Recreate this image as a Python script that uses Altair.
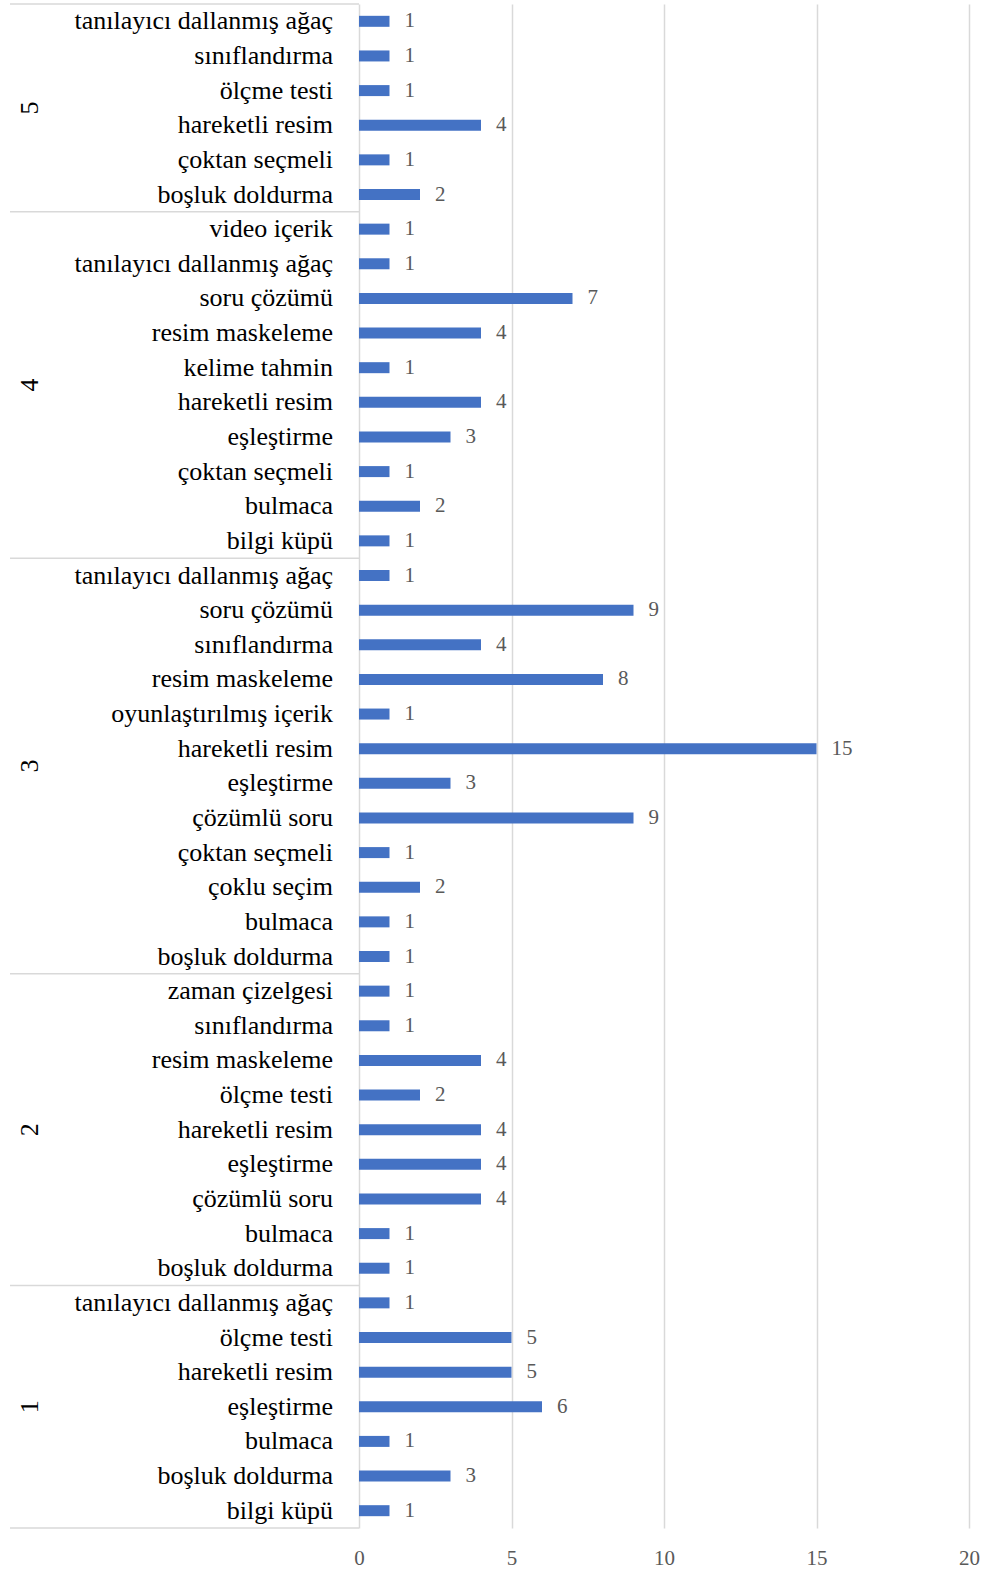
import altair as alt
import pandas as pd

group_names = ["5", "4", "3", "2", "1"]

g5_cats = ["tanılayıcı dallanmış ağaç", "sınıflandırma", "ölçme testi", "hareketli resim",
           "çoktan seçmeli", "boşluk doldurma"]
g5_vals = [1, 1, 1, 4, 1, 2]

g4_cats = ["video içerik", "tanılayıcı dallanmış ağaç", "soru çözümü", "resim maskeleme",
           "kelime tahmin", "hareketli resim", "eşleştirme", "çoktan seçmeli", "bulmaca", "bilgi küpü"]
g4_vals = [1, 1, 7, 4, 1, 4, 3, 1, 2, 1]

g3_cats = ["tanılayıcı dallanmış ağaç", "soru çözümü", "sınıflandırma", "resim maskeleme",
           "oyunlaştırılmış içerik", "hareketli resim", "eşleştirme", "çözümlü soru",
           "çoktan seçmeli", "çoklu seçim", "bulmaca", "boşluk doldurma"]
g3_vals = [1, 9, 4, 8, 1, 15, 3, 9, 1, 2, 1, 1]

g2_cats = ["zaman çizelgesi", "sınıflandırma", "resim maskeleme", "ölçme testi", "hareketli resim",
           "eşleştirme", "çözümlü soru", "bulmaca", "boşluk doldurma"]
g2_vals = [1, 1, 4, 2, 4, 4, 4, 1, 1]

g1_cats = ["tanılayıcı dallanmış ağaç", "ölçme testi", "hareketli resim", "eşleştirme",
           "bulmaca", "boşluk doldurma", "bilgi küpü"]
g1_vals = [1, 5, 5, 6, 1, 3, 1]

x_ticks = [0, 5, 10, 15, 20]

groups = [(group_names[0], g5_cats, g5_vals), (group_names[1], g4_cats, g4_vals),
          (group_names[2], g3_cats, g3_vals), (group_names[3], g2_cats, g2_vals),
          (group_names[4], g1_cats, g1_vals)]

rows = []
grows = []
bounds = [-0.5]
r = 0
for g, cats, vals in groups:
    start = r
    for c, v in zip(cats, vals):
        rows.append({"group": g, "cat": c, "value": v, "row": r})
        r += 1
    grows.append({"group": g, "row": (start + r - 1) / 2})
    bounds.append(r - 0.5)

df = pd.DataFrame(rows)
gdf = pd.DataFrame(grows)
bdf = pd.DataFrame({"b": bounds})

FONT = "Liberation Serif"
yscale = alt.Scale(domain=[-0.5, r - 0.5], reverse=True, nice=False, zero=False, padding=0)
xscale = alt.Scale(domain=[0, 20], nice=False, padding=0)
xaxis = alt.Axis(values=x_ticks, grid=True, gridColor="#d9d9d9", gridWidth=1.5,
                 domain=False, ticks=False, title=None, labelFont=FONT, labelFlush=False,
                 labelFontSize=21, labelColor="#595959", labelPadding=19)

base = alt.Chart(df)

bars = base.mark_bar(orient="horizontal", height=11, color="#4472C4").encode(
    x=alt.X("value:Q", scale=xscale, axis=xaxis),
    y=alt.Y("row:Q", scale=yscale, axis=None),
)

vals = base.mark_text(align="left", baseline="middle", dx=15, font=FONT, fontSize=21,
                      color="#595959").encode(
    x=alt.X("value:Q", scale=xscale, axis=xaxis),
    y=alt.Y("row:Q", scale=yscale, axis=None), text="value:Q")

cats = base.mark_text(align="right", baseline="middle", font=FONT, fontSize=26,
                      color="#000000").encode(
    x=alt.value(-26), y=alt.Y("row:Q", scale=yscale, axis=None), text="cat:N")

glabels = alt.Chart(gdf).mark_text(align="center", baseline="middle", angle=270, font=FONT,
                                   fontSize=26, color="#000000").encode(
    x=alt.value(-329), y=alt.Y("row:Q", scale=yscale, axis=None), text="group:N")

seps = alt.Chart(bdf).mark_rule(color="#d9d9d9", strokeWidth=1.5).encode(
    x=alt.value(-349), x2=alt.value(0), y=alt.Y("b:Q", scale=yscale, axis=None))

chart = alt.layer(bars, seps, vals, cats, glabels).properties(
    width=610, height=1524,
    autosize=alt.AutoSizeParams(type="none"),
    padding={"left": 359, "top": 4, "right": 15, "bottom": 45},
).configure_view(stroke=None)

chart.save("out.html", embed_options={"renderer": "svg", "actions": False})
